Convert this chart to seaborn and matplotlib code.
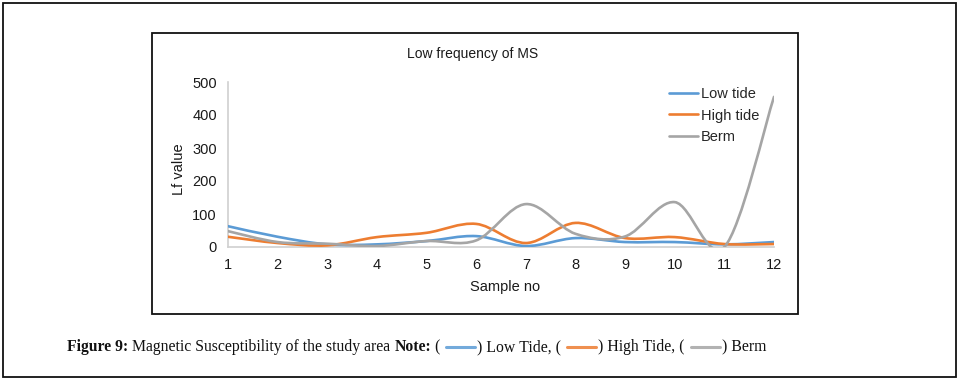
import numpy as np
import seaborn as sns
import matplotlib.pyplot as plt
from matplotlib.path import Path
from matplotlib.patches import PathPatch, Rectangle
from matplotlib.lines import Line2D

sns.set_theme(style="white")
plt.rcParams['font.family'] = ['Liberation Sans', 'DejaVu Sans']

# values
samples = [1, 2, 3, 4, 5, 6, 7, 8, 9, 10, 11, 12]
low_tide = [63, 31, 8, 8, 18, 33, 3, 27, 15, 15, 8, 15]
high_tide = [31, 12, 5, 30, 43, 70, 12, 73, 27, 30, 9, 9]
berm = [48, 15, 10, 3, 18, 20, 130, 40, 32, 136, 0, 455]
series = ['Low tide', 'High tide', 'Berm']
colors = ['#5B9BD5', '#ED7D31', '#A5A5A5']

W, H = 959, 380
fig = plt.figure(figsize=(W / 100, H / 100), dpi=100)
ax = fig.add_axes([228 / W, (H - 247) / H, (774 - 228) / W, (247 - 82) / H])


def smooth_path(xs, ys):
    # excel style smoothed line: cubic bezier through every point
    pts = np.column_stack([xs, ys]).astype(float)
    n = len(pts)
    verts = [pts[0]]
    codes = [Path.MOVETO]
    for i in range(n - 1):
        p0 = pts[max(i - 1, 0)]
        p1 = pts[i]
        p2 = pts[i + 1]
        p3 = pts[min(i + 2, n - 1)]
        verts += [p1 + (p2 - p0) / 6, p2 - (p3 - p1) / 6, p2]
        codes += [Path.CURVE4] * 3
    return Path(verts, codes)


for name, vals, c in zip(series, [low_tide, high_tide, berm], colors):
    ax.add_patch(PathPatch(smooth_path(samples, vals), fill=False,
                           edgecolor=c, lw=1.9, capstyle='round', zorder=3))

ax.set_xlim(1, 12)
ax.set_ylim(0, 500)
ax.set_xticks(samples)
ax.set_yticks(range(0, 501, 100))
ax.tick_params(length=0, labelsize=10.5, labelcolor='#1a1a1a')
ax.tick_params(axis='x', pad=8)
ax.tick_params(axis='y', pad=8)
for s in ['top', 'right']:
    ax.spines[s].set_visible(False)
for s in ['left', 'bottom']:
    ax.spines[s].set_color('#D0D0D0')
    ax.spines[s].set_linewidth(1.2)
ax.grid(False)
ax.set_facecolor('none')

ax.set_xlabel('Sample no', fontsize=10.5, color='#1a1a1a', va='center')
ax.xaxis.set_label_coords(0.507, -0.242)
ax.set_ylabel('Lf value', fontsize=10.5, color='#1a1a1a', va='center')
ax.yaxis.set_label_coords(-0.09, 0.47)
fig.text(473 / W, 1 - 54 / H, 'Low frequency of MS', ha='center', va='center',
         fontsize=10, color='#1a1a1a')

handles = [Line2D([], [], color=c, lw=1.9) for c in colors]
ax.legend(handles, series, loc='upper left', frameon=False, fontsize=10.5,
          bbox_to_anchor=(662 / W, 1 - 80 / H), bbox_transform=fig.transFigure,
          handlelength=2.0, handletextpad=0.15, labelspacing=0.5, borderpad=0)

# frames
fig.patches.append(Rectangle((3 / W, 3 / H), 953 / W, 374 / H, fill=False,
                             edgecolor='#111111', lw=1.3, transform=fig.transFigure))
fig.patches.append(Rectangle((152 / W, (H - 314) / H), (798 - 152) / W, (314 - 33) / H,
                             fill=False, edgecolor='#111111', lw=1.3,
                             transform=fig.transFigure))

# caption with coloured keys
fig.canvas.draw()
rend = fig.canvas.get_renderer()
cy = 1 - 351 / H
cap_font = ['Liberation Serif', 'DejaVu Serif']
parts = [('Figure 9:', 'bold', None), (' Magnetic Susceptibility of the study area ', 'normal', None),
         ('Note:', 'bold', None), (' (', 'normal', None), ('', None, colors[0]),
         (') Low Tide, (', 'normal', None), ('', None, colors[1]),
         (') High Tide, (', 'normal', None), ('', None, colors[2]), (') Berm', 'normal', None)]
x = 67
for text, weight, key in parts:
    if key is not None:
        x += 6
        fig.add_artist(Line2D([x / W, (x + 29) / W], [cy + 4 / H, cy + 4 / H], color=key,
                              lw=2.2, alpha=0.85, transform=fig.transFigure))
        x += 31
        continue
    t = fig.text(x / W, cy, text.replace(' ', '\u00a0'), ha='left', va='baseline',
                 fontsize=11.3, fontweight=weight, family=cap_font, color='#111111')
    x += t.get_window_extent(rend).width

fig.savefig('out.png', dpi=100)
